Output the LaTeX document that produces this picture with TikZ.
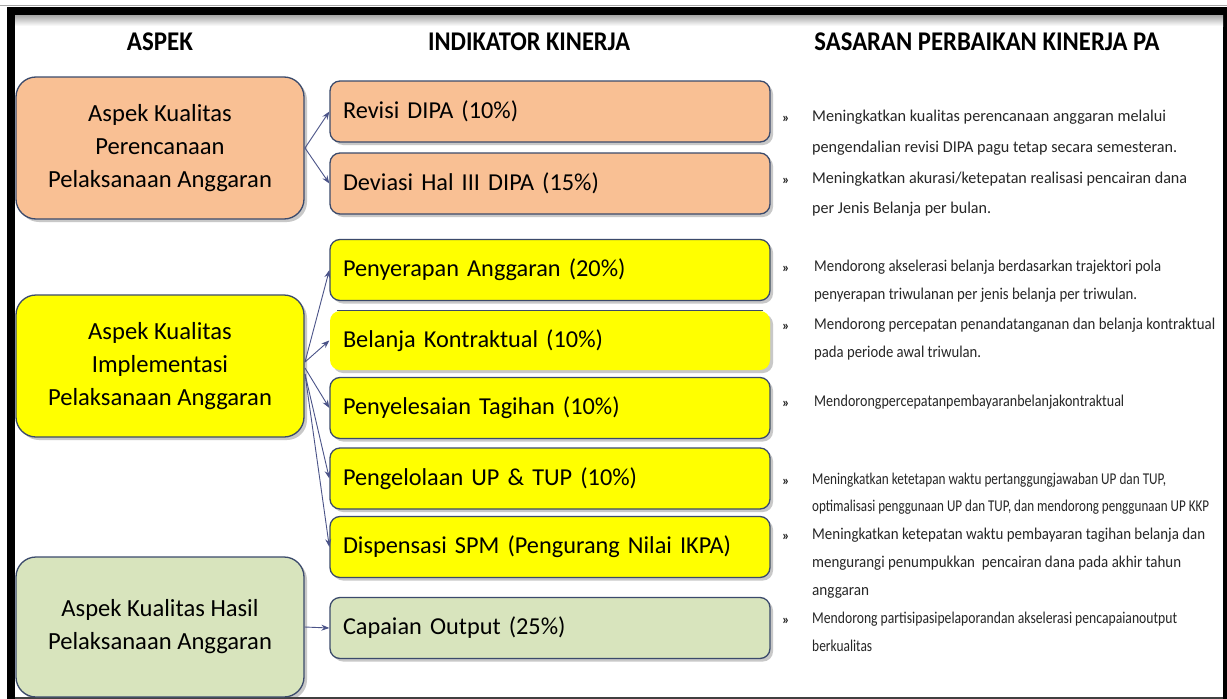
\documentclass[tikz,border=0pt]{standalone}
\usepackage{fontspec}
\usepackage{graphicx}
\setmainfont{Carlito}
\usetikzlibrary{shadows,arrows.meta}
\definecolor{bordc}{HTML}{3B4A6B}
\definecolor{arrc}{HTML}{4A5388}
\definecolor{orF}{HTML}{F9C094}
\definecolor{yeF}{HTML}{FFFF00}
\definecolor{grF}{HTML}{D8E4BD}
\definecolor{txtc}{HTML}{262626}
\newcommand\fitw[2]{\resizebox{#1pt}{\height}{#2}}
\tikzset{
  x=1pt, y=-1pt,
  shd/.style={drop shadow={shadow xshift=3pt, shadow yshift=-3pt, opacity=0.3, fill=black!70}},
  aspbox/.style={draw=bordc, line width=1.3pt, rounded corners=20pt, minimum width=288pt,
     shd, font=\fontsize{24.6}{33}\selectfont, align=center, inner sep=0pt, text=black},
  indbox/.style={draw=bordc, line width=1.3pt, rounded corners=10pt, minimum height=61pt,
     text width=414pt, inner xsep=13pt, inner ysep=0pt, align=left, shd,
     font=\fontsize{24.3}{28}\selectfont, text=black},
  hdr/.style={font=\bfseries\fontsize{27}{30}\selectfont, text=black, inner sep=0pt},
  bul/.style={anchor=mid west, inner sep=0pt, font=\bfseries\fontsize{14}{15}\selectfont, text=txtc},
  sline/.style={anchor=mid west, inner sep=0pt, font=\fontsize{16.5}{18}\selectfont, text=txtc},
  con/.style={draw=arrc, line width=0.9pt, -{Stealth[length=8pt,width=6pt]}}
}
\begin{document}
\begin{tikzpicture}
\useasboundingbox (0,0) rectangle (1227,699);
\fill[white] (0,0) rectangle (1227,699);
% frame
\draw[gray!70, line width=1pt] (0,5.5) -- (1227,5.5);
\fill[black] (7,7) rectangle (1227,15);
\fill[black] (7,7) rectangle (15,699);
\fill[black] (1223,7) rectangle (1227,699);
\fill[black!75] (15,697) rectangle (1223,699);
\shade[top color=black!35, bottom color=white] (15,15) rectangle (1223,26);

% headers
\node[hdr] (h1) at (160,42) {\fitw{66}{ASPEK}};
\node[hdr] (h2) at (529,42) {\fitw{202}{INDIKATOR KINERJA}};
\node[hdr] (h3) at (987,42) {\fitw{345}{SASARAN PERBAIKAN KINERJA PA}};

% aspect boxes
\node[aspbox, fill=orF, minimum height=142pt] (a1) at (160,148) {Aspek Kualitas\\Perencanaan\\Pelaksanaan Anggaran};
\node[aspbox, fill=yeF, minimum height=142pt] (a2) at (160,366) {Aspek Kualitas\\Implementasi\\Pelaksanaan Anggaran};
\node[aspbox, fill=grF, minimum height=140pt] (a3) at (160,627) {Aspek Kualitas Hasil\\Pelaksanaan Anggaran};

% indicator boxes
\node[indbox, fill=orF] (i1) at (550,111.5) {Revisi DIPA (10\%)};
\node[indbox, fill=orF] (i2) at (550,183.5) {Deviasi Hal III DIPA (15\%)};
\node[indbox, fill=yeF] (i3) at (550,270) {Penyerapan Anggaran (20\%)};
\node[indbox, fill=yeF, draw=none, minimum height=59pt] (i4) at (550,340.5) {Belanja Kontraktual (10\%)};
\draw[bordc, line width=1pt] ([xshift=8pt]i4.north west) -- ([xshift=-8pt]i4.north east);
\node[indbox, fill=yeF] (i5) at (550,408) {Penyelesaian Tagihan (10\%)};
\node[indbox, fill=yeF] (i6) at (550,478.5) {Pengelolaan UP \& TUP (10\%)};
\node[indbox, fill=yeF] (i7) at (550,547) {Dispensasi SPM (Pengurang Nilai IKPA)};
\node[indbox, fill=grF] (i8) at (550,628) {Capaian Output (25\%)};

% connectors
\coordinate (s1) at (305,148);
\coordinate (s2a) at (305,362);
\coordinate (s2b) at (305,368);
\coordinate (s2c) at (305,374);
\draw[con] (s1) -- (i1.west);
\draw[con] (s1) -- (i2.west);
\draw[con] (s2a) -- (i3.west);
\draw[con] (s2a) -- (i4.west);
\draw[con] (s2b) -- (i5.west);
\draw[con] (s2c) -- (i6.west);
\draw[con] (s2c) -- (i7.west);
\draw[con] (a3.east) -- (i8.west);

% right text
\node[bul] (b1) at (782,120) {»};
\node[sline] (t1a) at (812,119) {\fitw{354}{Meningkatkan kualitas perencanaan anggaran melalui}};
\node[sline] (t1b) at (812,150) {\fitw{365}{pengendalian revisi DIPA pagu tetap secara semesteran.}};
\node[bul] (b2) at (782,182) {»};
\node[sline] (t2a) at (812,181) {\fitw{375}{Meningkatkan akurasi/ketepatan realisasi pencairan dana}};
\node[sline] (t2b) at (812,211) {\fitw{179}{per Jenis Belanja per bulan.}};
\node[bul] (b3) at (782,270) {»};
\node[sline] (t3a) at (814,269) {\fitw{347}{Mendorong akselerasi belanja berdasarkan trajektori pola}};
\node[sline] (t3b) at (814,297) {\fitw{323}{penyerapan triwulanan per jenis belanja per triwulan.}};
\node[bul] (b4) at (782,328) {»};
\node[sline] (t4a) at (814,327) {\fitw{401}{Mendorong percepatan penandatanganan dan belanja kontraktual}};
\node[sline] (t4b) at (814,355) {\fitw{167}{pada periode awal triwulan.}};
\node[bul] (b5) at (782,405) {»};
\node[sline] (t5a) at (814,404) {\fitw{310}{Mendorongpercepatanpembayaranbelanjakontraktual}};
\node[bul] (b6) at (782,483) {»};
\node[sline] (t6a) at (812,482) {\fitw{354}{Meningkatkan ketetapan waktu pertanggungjawaban UP dan TUP,}};
\node[sline] (t6b) at (812,509) {\fitw{397}{optimalisasi penggunaan UP dan TUP, dan mendorong penggunaan UP KKP}};
\node[bul] (b7) at (782,538) {»};
\node[sline] (t7a) at (812,537) {\fitw{393}{Meningkatkan ketepatan waktu pembayaran tagihan belanja dan}};
\node[sline] (t7b) at (812,565) {\fitw{369}{mengurangi penumpukkan\ \ pencairan dana pada akhir tahun}};
\node[sline] (t7c) at (812,593) {\fitw{57}{anggaran}};
\node[bul] (b8) at (782,622) {»};
\node[sline] (t8a) at (812,621) {\fitw{365}{Mendorong partisipasipelaporandan akselerasi pencapaianoutput}};
\node[sline] (t8b) at (812,649) {\fitw{60}{berkualitas}};
\end{tikzpicture}
\end{document}
